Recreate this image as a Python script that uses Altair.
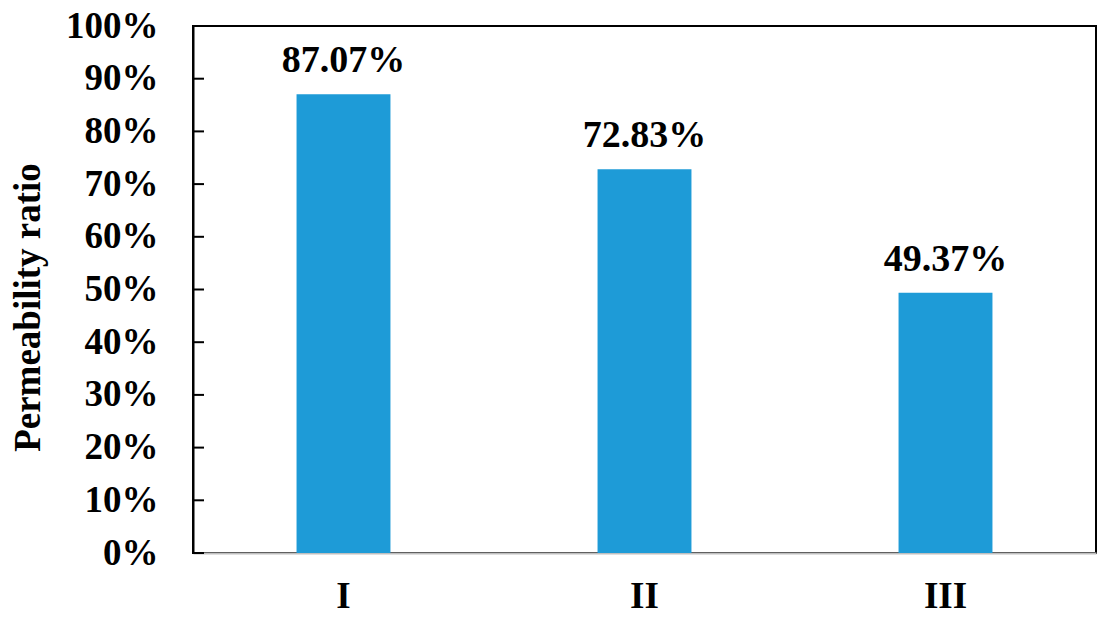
import altair as alt
import pandas as pd

categories = ["I", "II", "III"]
values = [0.8707, 0.7283, 0.4937]
labels = ["87.07%", "72.83%", "49.37%"]
tick_values = [0.0, 0.1, 0.2, 0.3, 0.4, 0.5, 0.6, 0.7, 0.8, 0.9, 1.0]

df = pd.DataFrame({"cat": categories, "val": values, "label": labels})
ticks_df = pd.DataFrame({"t": tick_values})

FONT = "Liberation Serif"

x_enc = alt.X("cat:N", sort=categories,
              scale=alt.Scale(paddingInner=0, paddingOuter=0),
              axis=alt.Axis(title=None, labelAngle=0, labelFont=FONT, labelFontSize=37,
                            labelFontWeight="bold", labelColor="black", labelPadding=25,
                            ticks=False, domainColor="#bfbfbf", domainWidth=2))
y_scale = alt.Scale(domain=[0, 1], nice=False)

bars = alt.Chart(df).mark_bar(width={"band": 0.312}, color="#1e9bd7").encode(
    x=x_enc,
    y=alt.Y("val:Q", scale=y_scale,
            axis=alt.Axis(title="Permeability ratio", values=tick_values, format=".0%",
                          labelFont=FONT, labelFontSize=37, labelFontWeight="bold",
                          labelColor="black", labelPadding=35, ticks=False,
                          domainColor="black", domainWidth=2, grid=False,
                          titleFont=FONT, titleFontSize=37, titleFontWeight="bold",
                          titleColor="black", titlePadding=18, titleY=281)),
)

text = alt.Chart(df).mark_text(font=FONT, fontSize=38, fontWeight="bold", color="black",
                               baseline="alphabetic", dy=-22).encode(
    x=alt.X("cat:N", sort=categories),
    y=alt.Y("val:Q", scale=y_scale),
    text="label:N",
)

tick_marks = alt.Chart(ticks_df).mark_rule(color="black", strokeWidth=2).encode(
    y=alt.Y("t:Q", scale=y_scale),
    x=alt.value(0),
    x2=alt.value(11),
)

chart = (bars + text + tick_marks).properties(
    width=903, height=527,
    autosize=alt.AutoSizeParams(type="none"),
    padding={"left": 185, "top": 18, "right": 4, "bottom": 61},
).configure_view(stroke="black", strokeWidth=2)

chart.save("out.html", embed_options={"renderer": "svg", "actions": False})
